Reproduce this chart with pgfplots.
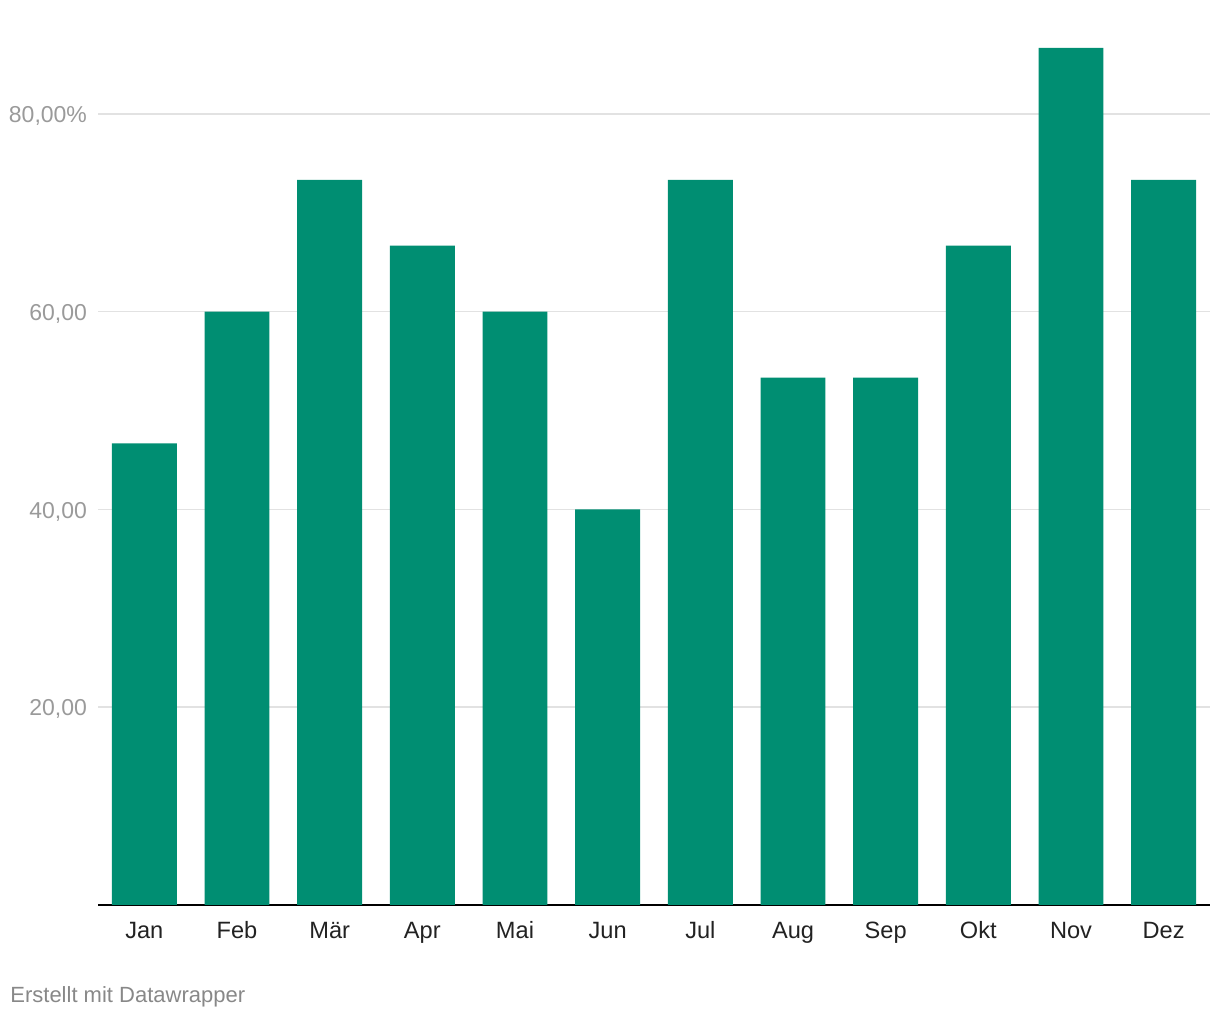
\documentclass[border=0pt]{standalone}
\usepackage{pgfplots}
\pgfplotsset{compat=1.18}
\usepackage{fontspec}
\setmainfont{Liberation Sans}
\definecolor{barcol}{HTML}{008E72}
\definecolor{gridcol}{HTML}{E2E2E2}
\definecolor{ticktxt}{HTML}{9A9A9A}
\definecolor{foottxt}{HTML}{888888}
\definecolor{labtxt}{HTML}{222222}
\begin{document}
\begin{tikzpicture}
\useasboundingbox (0,0) rectangle (610pt,510pt);
\begin{axis}[
    at={(49pt,57.5pt)}, anchor=south west,
    scale only axis, width=556pt, height=445pt,
    xmin=-0.5, xmax=11.5, ymin=0, ymax=90,
    axis lines*=left,
    x axis line style={-, black, line width=1pt},
    y axis line style={draw=none},
    major tick length=0pt,
    xtick={0,...,11},
    xticklabels={Jan,Feb,Mär,Apr,Mai,Jun,Jul,Aug,Sep,Okt,Nov,Dez},
    ytick={20,40,60,80},
    yticklabels={{20,00},{40,00},{60,00},{80,00\%}},
    ymajorgrids, grid style={gridcol, line width=0.8pt},
    yticklabel style={text=ticktxt, font=\fontsize{11.5}{13}\selectfont, xshift=-2pt, yshift=-1pt},
    xticklabel style={text=labtxt, font=\fontsize{11.8}{13}\selectfont,
        text height=9pt, text depth=2.5pt, yshift=-4pt},
    ybar, bar width=0.7,
]
\addplot[fill=barcol, draw=none] coordinates {
    (0,46.67) (1,60) (2,73.33) (3,66.67) (4,60) (5,40)
    (6,73.33) (7,53.33) (8,53.33) (9,66.67) (10,86.67) (11,73.33)
};
\end{axis}
\node[anchor=base west, text=foottxt, font=\fontsize{11}{13}\selectfont, inner sep=0pt] at (5pt,8.5pt) {Erstellt mit Datawrapper};
\end{tikzpicture}
\end{document}
